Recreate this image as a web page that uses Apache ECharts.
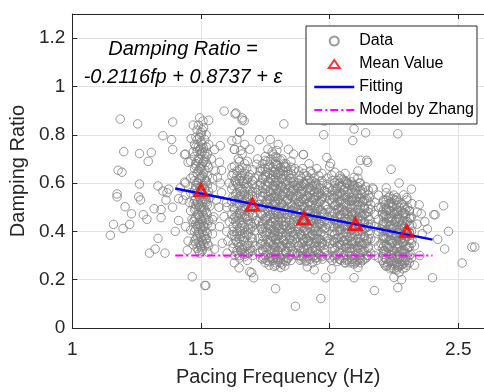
<!DOCTYPE html>
<html><head><meta charset="utf-8">
<script src="https://cdn.jsdelivr.net/npm/echarts@6/dist/echarts.min.js"></script>
<style>html,body{margin:0;padding:0;background:#fff}#c{width:484px;height:392px}</style>
</head><body><div id="c"></div>
<script>
// ---- data ----
const dataLeft = [
[1.186,0.865],[1.254,0.845],[1.39,0.853],[1.352,0.796],[1.386,0.78],[1.462,0.784],[1.2,0.73],[1.261,0.722],[1.307,0.727],[1.295,0.69],[1.39,0.739],[1.436,0.718],[1.178,0.653],[1.193,0.645],[1.45,0.686],[1.261,0.596],[1.174,0.555],[1.174,0.543],[1.258,0.543],[1.265,0.53],[1.333,0.588],[1.352,0.567],[1.375,0.575],[1.368,0.56],[1.436,0.604],[1.205,0.502],[1.364,0.53],[1.413,0.535],[1.43,0.53],[1.23,0.473],[1.276,0.469],[1.318,0.494],[1.345,0.49],[1.345,0.457],[1.413,0.445],[1.39,0.50],[1.16,0.429],[1.197,0.412],[1.223,0.429],[1.148,0.384],[1.333,0.371],[1.30,0.31],[1.322,0.327],[1.36,0.31],[1.447,0.322],[1.466,0.212],[1.519,0.176],[1.29,0.45],[1.40,0.40],[1.42,0.58],[1.44,0.55]
];
const dataMid = [
[1.59,0.898],[1.633,0.886],[1.66,0.861],[1.668,0.858],[1.508,0.857],[1.65,0.812],[1.727,0.78],[1.769,0.78],[1.822,0.845],[1.62,0.776],[1.553,0.739],[1.575,0.755],[1.63,0.739],[1.655,0.735],[1.898,0.718],[1.795,0.706],[1.989,0.706],[1.977,0.80],[1.98,0.857],[1.572,0.686],[1.58,0.653],[1.62,0.665],[1.564,0.624],[1.826,0.669],[2.0,0.669],[2.008,0.633],[1.545,0.449],[1.59,0.461],[1.572,0.42],[1.583,0.351],[1.553,0.327],[1.602,0.31],[1.648,0.249],[1.697,0.229],[1.705,0.208],[1.515,0.176],[1.79,0.163],[1.826,0.257],[1.867,0.09],[1.966,0.122],[1.985,0.208],[2.095,0.208],[2.174,0.155],[2.265,0.167],[2.40,0.208],[2.095,0.824],[2.14,0.808],[2.09,0.776],[2.12,0.694],[2.148,0.686],[2.239,0.657],[2.265,0.804],[2.167,0.58],[2.318,0.575],[2.288,0.551],[2.17,0.575],[2.348,0.51],[2.356,0.473],[2.41,0.469],[2.443,0.506],[2.405,0.469],[2.462,0.40],[2.42,0.367],[2.447,0.327],[2.553,0.335],[2.564,0.335],[2.515,0.269],[1.58,0.56],[1.60,0.52],[1.57,0.50],[1.60,0.40],[1.575,0.60],[2.34,0.43],[2.36,0.39],[2.33,0.34],[2.35,0.30],[2.37,0.44],[2.38,0.41],[2.33,0.26],[2.34,0.48]
];
const bandA = [
[1.49,0.84],[1.51,0.83],[1.50,0.81],[1.48,0.79],[1.52,0.80],[1.50,0.77],[1.49,0.75],[1.51,0.745],[1.53,0.76],[1.47,0.73],[1.50,0.72],[1.52,0.71],[1.49,0.70],[1.51,0.69],[1.48,0.68],[1.50,0.67],[1.53,0.665],[1.49,0.65],[1.51,0.64],[1.47,0.63],[1.50,0.62],[1.52,0.61],[1.49,0.60],[1.51,0.59],[1.48,0.58],[1.50,0.57],[1.53,0.565],[1.46,0.56],[1.49,0.55],[1.51,0.545],[1.48,0.535],[1.50,0.53],[1.52,0.52],[1.47,0.515],[1.49,0.51],[1.51,0.50],[1.535,0.505],[1.48,0.495],[1.50,0.49],[1.52,0.48],[1.46,0.485],[1.49,0.47],[1.51,0.465],[1.48,0.455],[1.50,0.45],[1.53,0.445],[1.47,0.44],[1.49,0.43],[1.51,0.425],[1.50,0.415],[1.48,0.41],[1.52,0.40],[1.46,0.405],[1.49,0.395],[1.51,0.385],[1.50,0.375],[1.48,0.37],[1.52,0.365],[1.49,0.355],[1.51,0.35],[1.47,0.345],[1.50,0.335],[1.53,0.34],[1.49,0.32],[1.504,0.318],[1.527,0.314],[1.45,0.36],[1.44,0.42],[1.455,0.52],[1.44,0.60],[1.545,0.58],[1.55,0.46],[1.545,0.39],[1.56,0.53],[1.555,0.65],[1.46,0.69],[1.44,0.72],[1.53,0.86],[1.47,0.84],[1.54,0.70],[1.545,0.62],[1.46,0.62],[1.535,0.54],[1.465,0.45],[1.54,0.42]
];
const bandB = [
[1.636,0.89],[1.66,0.87],[1.65,0.81],[1.64,0.78],[1.67,0.76],[1.63,0.74],[1.66,0.72],[1.69,0.74],[1.645,0.70],[1.68,0.69],[1.716,0.678],[1.63,0.67],[1.66,0.665],[1.70,0.655],
[1.64,0.65],[1.67,0.64],[1.69,0.635],[1.62,0.63],[1.655,0.62],[1.68,0.615],[1.71,0.62],[1.635,0.605],[1.665,0.60],[1.70,0.595],[1.645,0.585],[1.675,0.58],[1.62,0.575],[1.69,0.57],[1.655,0.565],[1.715,0.56],[1.635,0.555],[1.67,0.55],[1.70,0.545],[1.645,0.535],[1.68,0.53],[1.62,0.525],[1.66,0.52],[1.695,0.515],[1.64,0.505],[1.675,0.50],[1.71,0.50],[1.63,0.49],[1.655,0.485],[1.69,0.48],[1.62,0.47],[1.67,0.47],[1.70,0.465],[1.645,0.455],[1.68,0.45],[1.715,0.445],[1.635,0.44],[1.66,0.435],[1.695,0.43],[1.625,0.42],[1.65,0.415],[1.685,0.41],[1.71,0.405],[1.64,0.40],[1.67,0.395],[1.62,0.385],[1.655,0.38],[1.695,0.375],[1.635,0.365],[1.665,0.36],[1.70,0.355],[1.645,0.345],[1.68,0.34],[1.625,0.33],[1.66,0.325],[1.69,0.32],[1.64,0.31],[1.67,0.305],[1.70,0.30],[1.65,0.29],[1.68,0.28],[1.69,0.233],[1.61,0.60],[1.60,0.50],[1.61,0.44],[1.605,0.36],[1.63,0.27]
];
const bandC = [
[1.74,0.68],[1.79,0.68],[1.83,0.68],[1.76,0.665],[1.81,0.665],[1.85,0.665],[1.73,0.65],[1.78,0.65],[1.82,0.65],[1.86,0.65],[1.75,0.635],[1.80,0.635],[1.84,0.635],[1.74,0.62],[1.77,0.62],[1.815,0.62],[1.85,0.62],[1.76,0.605],[1.79,0.605],[1.83,0.605],[1.86,0.605],[1.73,0.59],[1.78,0.59],[1.81,0.59],[1.845,0.59],[1.75,0.575],[1.795,0.575],[1.825,0.575],[1.86,0.575],[1.74,0.56],[1.77,0.56],[1.805,0.56],[1.84,0.56],[1.76,0.545],[1.785,0.545],[1.82,0.545],[1.855,0.545],[1.735,0.53],[1.77,0.53],[1.80,0.53],[1.835,0.53],[1.755,0.515],[1.79,0.515],[1.815,0.515],[1.85,0.515],[1.74,0.50],[1.775,0.50],[1.805,0.50],[1.84,0.50],[1.865,0.50],[1.76,0.485],[1.79,0.485],[1.825,0.485],[1.855,0.485],[1.735,0.47],[1.77,0.47],[1.80,0.47],[1.835,0.47],[1.75,0.455],[1.785,0.455],[1.815,0.455],[1.85,0.455],[1.74,0.44],[1.775,0.44],[1.80,0.44],[1.83,0.44],[1.86,0.44],[1.76,0.425],[1.79,0.425],[1.82,0.425],[1.845,0.425],[1.735,0.41],[1.77,0.41],[1.805,0.41],[1.835,0.41],[1.755,0.395],[1.785,0.395],[1.815,0.395],[1.85,0.395],[1.74,0.38],[1.775,0.38],[1.80,0.38],[1.83,0.38],[1.86,0.38],[1.76,0.365],[1.79,0.365],[1.82,0.365],[1.845,0.365],[1.735,0.35],[1.77,0.35],[1.805,0.35],[1.835,0.35],[1.75,0.335],[1.785,0.335],[1.815,0.335],[1.85,0.335],[1.74,0.32],[1.775,0.32],[1.80,0.32],[1.83,0.32],[1.76,0.305],[1.79,0.305],[1.82,0.305],[1.855,0.305],[1.745,0.29],[1.78,0.29],[1.81,0.29],[1.84,0.29],[1.765,0.275],[1.80,0.275],[1.83,0.275],[1.79,0.26],[1.81,0.25],
[1.80,0.76],[1.84,0.74],[1.86,0.72],[1.79,0.71],[1.76,0.74],[1.777,0.73],[1.75,0.694],[1.72,0.70],[1.85,0.69]
];
const bandD = [
[1.898,0.718],[1.92,0.68],[1.95,0.66],[1.88,0.65],[1.97,0.64],[1.91,0.63],
[1.88,0.61],[1.93,0.61],[1.97,0.61],[1.90,0.595],[1.95,0.595],[1.99,0.595],[1.875,0.58],[1.92,0.58],[1.96,0.58],[1.89,0.565],[1.94,0.565],[1.98,0.565],[1.87,0.55],[1.91,0.55],[1.955,0.55],[1.99,0.55],[1.895,0.535],[1.935,0.535],[1.97,0.535],[1.88,0.52],[1.92,0.52],[1.96,0.52],[1.90,0.505],[1.945,0.505],[1.985,0.505],[1.875,0.49],[1.915,0.49],[1.955,0.49],[1.89,0.475],[1.935,0.475],[1.975,0.475],[1.87,0.46],[1.91,0.46],[1.95,0.46],[1.99,0.46],[1.895,0.445],[1.93,0.445],[1.97,0.445],[1.88,0.43],[1.92,0.43],[1.96,0.43],[1.90,0.415],[1.945,0.415],[1.985,0.415],[1.875,0.40],[1.915,0.40],[1.955,0.40],[1.89,0.385],[1.935,0.385],[1.975,0.385],[1.87,0.37],[1.91,0.37],[1.95,0.37],[1.99,0.37],[1.895,0.355],[1.93,0.355],[1.97,0.355],[1.88,0.34],[1.92,0.34],[1.96,0.34],[1.90,0.325],[1.945,0.325],[1.98,0.325],[1.875,0.31],[1.915,0.31],[1.955,0.31],[1.89,0.295],[1.935,0.295],[1.97,0.295],[1.91,0.28],[1.95,0.28],[1.913,0.253],[1.94,0.241]
];
const bandE = [
[2.144,0.694],[2.004,0.682],[2.02,0.645],[2.095,0.624],[2.064,0.604],[2.04,0.63],[2.11,0.65],
[2.02,0.60],[2.07,0.60],[2.12,0.60],[2.04,0.585],[2.09,0.585],[2.14,0.585],[2.01,0.57],[2.055,0.57],[2.10,0.57],[2.15,0.57],[2.03,0.555],[2.075,0.555],[2.125,0.555],[2.015,0.54],[2.06,0.54],[2.105,0.54],[2.155,0.54],[2.04,0.525],[2.085,0.525],[2.13,0.525],[2.02,0.51],[2.065,0.51],[2.11,0.51],[2.16,0.51],[2.035,0.495],[2.08,0.495],[2.135,0.495],[2.015,0.48],[2.055,0.48],[2.10,0.48],[2.15,0.48],[2.04,0.465],[2.085,0.465],[2.125,0.465],[2.02,0.45],[2.065,0.45],[2.11,0.45],[2.155,0.45],[2.035,0.435],[2.075,0.435],[2.135,0.435],[2.015,0.42],[2.055,0.42],[2.10,0.42],[2.15,0.42],[2.04,0.405],[2.085,0.405],[2.125,0.405],[2.02,0.39],[2.065,0.39],[2.11,0.39],[2.155,0.39],[2.035,0.375],[2.08,0.375],[2.135,0.375],[2.015,0.36],[2.055,0.36],[2.10,0.36],[2.145,0.36],[2.04,0.345],[2.085,0.345],[2.125,0.345],[2.02,0.33],[2.065,0.33],[2.11,0.33],[2.15,0.33],[2.035,0.315],[2.08,0.315],[2.13,0.315],[2.015,0.30],[2.055,0.30],[2.10,0.30],[2.145,0.30],[2.04,0.285],[2.085,0.285],[2.12,0.285],[2.06,0.27],[2.10,0.27],[2.008,0.245],[2.11,0.25]
];
const bandF = [
[2.27,0.60],[2.22,0.58],[2.30,0.54],[2.25,0.55],
[2.21,0.53],[2.26,0.53],[2.30,0.53],[2.23,0.515],[2.28,0.515],[2.32,0.515],[2.20,0.50],[2.245,0.50],[2.29,0.50],[2.22,0.485],[2.265,0.485],[2.31,0.485],[2.205,0.47],[2.25,0.47],[2.295,0.47],[2.23,0.455],[2.27,0.455],[2.315,0.455],[2.21,0.44],[2.255,0.44],[2.30,0.44],[2.235,0.425],[2.28,0.425],[2.32,0.425],[2.20,0.41],[2.245,0.41],[2.29,0.41],[2.225,0.395],[2.265,0.395],[2.31,0.395],[2.21,0.38],[2.255,0.38],[2.295,0.38],[2.235,0.365],[2.275,0.365],[2.32,0.365],[2.20,0.35],[2.245,0.35],[2.285,0.35],[2.225,0.335],[2.265,0.335],[2.305,0.335],[2.21,0.32],[2.25,0.32],[2.29,0.32],[2.23,0.305],[2.27,0.305],[2.315,0.305],[2.215,0.29],[2.255,0.29],[2.295,0.29],[2.24,0.275],[2.28,0.275],[2.225,0.26],[2.265,0.26],[2.30,0.26],[2.25,0.245],[2.285,0.245],[2.27,0.23],[2.28,0.20],[2.25,0.21]
];
// extra dense columns: [x, [y values]]
const denseCols = [
[1.475,[0.36,0.40,0.45,0.49,0.53,0.57,0.61,0.66,0.71,0.76]],
[1.485,[0.33,0.38,0.42,0.47,0.52,0.56,0.60,0.64,0.69,0.73,0.78,0.82]],
[1.495,[0.31,0.345,0.39,0.43,0.46,0.50,0.54,0.58,0.62,0.66,0.70,0.74,0.79,0.87]],
[1.505,[0.325,0.36,0.40,0.44,0.48,0.52,0.555,0.59,0.63,0.68,0.73,0.76,0.82]],
[1.515,[0.34,0.38,0.42,0.455,0.49,0.535,0.575,0.615,0.655,0.70,0.725,0.78]],
[1.525,[0.35,0.39,0.43,0.47,0.51,0.55,0.59,0.63,0.675,0.72]],
[1.48,[0.35,0.43,0.51,0.59,0.67,0.75]],
[1.50,[0.34,0.42,0.50,0.585,0.66,0.745,0.80]],
[1.52,[0.37,0.45,0.53,0.605,0.685,0.75]],
[1.625,[0.35,0.40,0.45,0.50,0.545,0.59,0.64]],
[1.632,[0.30,0.38,0.46,0.53,0.61]],
[1.64,[0.32,0.355,0.39,0.425,0.465,0.515,0.56,0.595,0.63]],
[1.65,[0.30,0.335,0.37,0.405,0.445,0.475,0.51,0.545,0.575,0.61,0.655,0.69]],
[1.655,[0.32,0.40,0.47,0.55,0.63]],
[1.66,[0.31,0.345,0.39,0.425,0.46,0.495,0.53,0.575,0.61,0.64]],
[1.67,[0.295,0.335,0.375,0.415,0.455,0.49,0.525,0.565,0.62,0.68]],
[1.678,[0.31,0.385,0.46,0.54,0.60,0.66]],
[1.685,[0.31,0.35,0.39,0.43,0.465,0.505,0.545,0.585,0.625]],
[1.693,[0.33,0.41,0.49,0.55]],
[1.70,[0.32,0.37,0.42,0.47,0.52,0.565,0.61]],
[1.71,[0.34,0.43,0.51,0.58]],
[1.725,[0.31,0.37,0.44,0.51,0.57,0.63]],
[1.732,[0.29,0.345,0.42,0.48,0.545,0.60,0.66]],
[1.74,[0.285,0.325,0.36,0.40,0.43,0.465,0.505,0.545,0.58,0.615,0.655]],
[1.75,[0.27,0.30,0.345,0.385,0.415,0.445,0.48,0.52,0.555,0.595,0.625,0.66,0.71]],
[1.757,[0.28,0.335,0.40,0.46,0.53,0.585,0.645,0.69]],
[1.765,[0.26,0.29,0.325,0.355,0.39,0.43,0.465,0.50,0.535,0.565,0.60,0.64,0.675]],
[1.772,[0.295,0.36,0.42,0.49,0.55,0.62,0.70]],
[1.78,[0.28,0.31,0.345,0.375,0.405,0.435,0.475,0.51,0.54,0.57,0.61,0.635,0.665,0.72]],
[1.785,[0.255,0.32,0.385,0.455,0.525,0.585,0.645]],
[1.79,[0.27,0.30,0.335,0.37,0.40,0.445,0.48,0.52,0.555,0.59,0.625,0.655,0.69]],
[1.795,[0.29,0.35,0.415,0.47,0.545,0.61,0.675,0.735]],
[1.80,[0.285,0.315,0.355,0.39,0.425,0.46,0.495,0.535,0.57,0.60,0.645,0.67]],
[1.808,[0.27,0.335,0.40,0.45,0.52,0.58,0.64,0.695]],
[1.815,[0.265,0.30,0.34,0.375,0.41,0.44,0.475,0.51,0.55,0.585,0.615,0.655,0.70]],
[1.822,[0.285,0.36,0.425,0.50,0.565,0.635,0.68]],
[1.83,[0.28,0.315,0.35,0.39,0.42,0.455,0.49,0.525,0.56,0.595,0.63,0.665]],
[1.837,[0.29,0.335,0.40,0.47,0.535,0.61,0.65]],
[1.845,[0.30,0.34,0.375,0.405,0.445,0.48,0.52,0.55,0.58,0.62]],
[1.85,[0.28,0.35,0.415,0.49,0.565,0.64]],
[1.855,[0.32,0.36,0.40,0.43,0.47,0.505,0.54,0.57,0.60]],
[1.865,[0.31,0.39,0.46,0.53,0.59,0.66]],
[1.872,[0.30,0.355,0.42,0.48,0.535,0.59]],
[1.88,[0.30,0.34,0.375,0.41,0.445,0.475,0.51,0.545,0.575,0.60]],
[1.885,[0.28,0.33,0.39,0.46,0.52,0.585,0.63]],
[1.89,[0.285,0.32,0.35,0.385,0.42,0.455,0.49,0.525,0.555,0.59,0.62]],
[1.895,[0.30,0.37,0.44,0.51,0.575,0.66]],
[1.90,[0.29,0.33,0.365,0.40,0.435,0.465,0.50,0.53,0.565,0.60,0.64]],
[1.908,[0.275,0.34,0.405,0.475,0.535,0.60]],
[1.915,[0.295,0.325,0.36,0.39,0.425,0.455,0.485,0.515,0.545,0.575,0.61]],
[1.92,[0.30,0.36,0.43,0.49,0.56,0.62]],
[1.925,[0.285,0.315,0.35,0.38,0.41,0.445,0.475,0.51,0.54,0.57,0.60,0.65]],
[1.933,[0.27,0.32,0.39,0.455,0.52,0.585,0.64]],
[1.94,[0.30,0.335,0.37,0.40,0.435,0.465,0.495,0.53,0.56,0.59,0.62]],
[1.945,[0.29,0.35,0.41,0.475,0.54,0.60]],
[1.95,[0.29,0.32,0.355,0.39,0.42,0.45,0.48,0.515,0.545,0.575]],
[1.958,[0.305,0.37,0.435,0.50,0.56,0.63]],
[1.965,[0.30,0.335,0.365,0.395,0.43,0.46,0.49,0.525,0.555,0.59]],
[1.972,[0.285,0.35,0.42,0.48,0.545,0.60]],
[1.98,[0.31,0.345,0.38,0.41,0.44,0.475,0.51,0.54,0.57]],
[1.99,[0.30,0.36,0.43,0.49,0.56,0.62]],
[2.0,[0.29,0.35,0.42,0.48,0.53,0.58]],
[2.01,[0.28,0.33,0.40,0.46,0.52,0.55,0.61]],
[2.02,[0.29,0.32,0.355,0.385,0.415,0.445,0.475,0.505,0.535,0.565,0.59]],
[2.025,[0.30,0.37,0.44,0.51,0.575]],
[2.03,[0.275,0.305,0.34,0.37,0.40,0.43,0.46,0.49,0.52,0.55,0.58,0.61]],
[2.038,[0.285,0.355,0.42,0.485,0.545,0.60]],
[2.045,[0.28,0.31,0.345,0.375,0.41,0.44,0.47,0.50,0.53,0.56,0.59,0.62]],
[2.052,[0.29,0.36,0.43,0.49,0.55,0.615]],
[2.06,[0.27,0.305,0.335,0.365,0.395,0.425,0.455,0.485,0.515,0.55,0.58,0.61,0.64]],
[2.065,[0.28,0.345,0.41,0.475,0.54,0.60]],
[2.07,[0.285,0.315,0.35,0.38,0.41,0.44,0.47,0.50,0.53,0.565,0.595]],
[2.078,[0.27,0.33,0.40,0.46,0.525,0.59]],
[2.085,[0.275,0.30,0.33,0.36,0.39,0.42,0.45,0.48,0.51,0.54,0.575,0.605]],
[2.09,[0.285,0.35,0.41,0.47,0.53,0.595]],
[2.095,[0.265,0.29,0.325,0.355,0.385,0.415,0.445,0.475,0.505,0.535,0.56,0.59]],
[2.103,[0.275,0.34,0.40,0.465,0.525,0.58]],
[2.11,[0.28,0.31,0.34,0.37,0.40,0.43,0.46,0.49,0.52,0.555,0.585,0.62]],
[2.116,[0.29,0.355,0.42,0.48,0.54,0.60]],
[2.12,[0.27,0.30,0.325,0.355,0.385,0.415,0.445,0.475,0.505,0.535,0.57]],
[2.128,[0.28,0.34,0.40,0.46,0.52,0.575]],
[2.135,[0.285,0.32,0.35,0.38,0.41,0.44,0.47,0.50,0.53,0.56]],
[2.142,[0.29,0.35,0.415,0.475,0.535]],
[2.15,[0.30,0.335,0.37,0.40,0.43,0.46,0.495,0.525,0.55]],
[2.16,[0.31,0.37,0.43,0.49]],
[2.175,[0.30,0.36,0.42,0.47,0.52]],
[2.19,[0.29,0.34,0.40,0.45,0.50,0.55]],
[2.205,[0.28,0.33,0.38,0.43,0.48]],
[2.21,[0.27,0.305,0.34,0.37,0.40,0.43,0.46,0.49,0.52]],
[2.215,[0.26,0.32,0.37,0.42,0.47,0.51]],
[2.22,[0.255,0.285,0.315,0.345,0.375,0.405,0.435,0.465,0.495,0.53,0.56]],
[2.228,[0.27,0.33,0.38,0.44,0.49,0.54]],
[2.235,[0.245,0.275,0.305,0.335,0.365,0.395,0.425,0.455,0.485,0.515,0.545]],
[2.24,[0.25,0.30,0.36,0.41,0.46,0.52]],
[2.245,[0.26,0.29,0.32,0.355,0.385,0.415,0.445,0.475,0.505,0.535]],
[2.253,[0.265,0.31,0.37,0.425,0.48,0.53]],
[2.26,[0.24,0.27,0.30,0.33,0.36,0.39,0.42,0.45,0.48,0.51,0.54]],
[2.265,[0.25,0.295,0.35,0.405,0.46,0.52]],
[2.27,[0.255,0.285,0.315,0.345,0.375,0.41,0.44,0.47,0.50]],
[2.278,[0.26,0.32,0.37,0.43,0.485]],
[2.285,[0.265,0.295,0.325,0.355,0.385,0.415,0.445,0.475,0.51]],
[2.29,[0.27,0.31,0.365,0.42,0.475]],
[2.295,[0.25,0.28,0.31,0.34,0.37,0.40,0.43,0.46,0.49]],
[2.303,[0.28,0.33,0.38,0.44,0.50]],
[2.31,[0.27,0.30,0.335,0.365,0.395,0.425,0.455,0.485]],
[2.318,[0.29,0.35,0.40,0.46]]
];
const meanValues = [[1.5,0.57],[1.7,0.51],[1.9,0.453],[2.1,0.43],[2.3,0.40]];
const fitLine = [[1.4,0.5775],[2.4,0.3659]];
const zhangLine = [[1.4,0.30],[2.4,0.30]];
const legendNames = ['Data','Mean Value','Fitting','Model by Zhang'];
const annotation = ['Damping Ratio =','-0.2116fp + 0.8737 + \u03b5'];
const xName = 'Pacing Frequency (Hz)';
const yName = 'Damping Ratio';

const denseData = [];
denseCols.forEach(function(c){ c[1].forEach(function(y){ denseData.push([c[0], y]); }); });
const allData = [].concat(dataLeft, dataMid, bandA, bandB, bandC, bandD, bandE, bandF, denseData);
const FONT = '"Liberation Sans", Arial, sans-serif';
const AX = '#262626';
const chart = echarts.init(document.getElementById('c'), null, {renderer:'canvas'});
chart.setOption({
  animation:false,
  backgroundColor:'#fff',
  textStyle:{fontFamily:FONT},
  grid:{left:69, right:-8, top:14, bottom:59, containLabel:false},
  xAxis:[{
    type:'value', min:1, max:2.6, interval:0.5,
    name:xName, nameLocation:'middle', nameGap:39,
    nameTextStyle:{fontSize:20, color:AX, fontFamily:FONT},
    axisLine:{show:true, onZero:false, lineStyle:{color:AX, width:1}},
    axisTick:{show:true, inside:true, length:5, lineStyle:{color:AX}},
    axisLabel:{fontSize:19, color:AX, margin:12, fontFamily:FONT, showMaxLabel:false},
    splitLine:{show:true, lineStyle:{color:'#e3e3e3', width:1}}
  },{
    type:'value', min:1, max:2.6, interval:0.5, position:'top',
    axisLine:{show:true, onZero:false, lineStyle:{color:AX, width:1}},
    axisTick:{show:true, inside:true, length:5, lineStyle:{color:AX}},
    axisLabel:{show:false}, splitLine:{show:false}
  }],
  yAxis:{
    type:'value', min:0, max:1.3, interval:0.2,
    name:yName, nameLocation:'middle', nameGap:32,
    nameTextStyle:{fontSize:20, color:AX, fontFamily:FONT},
    axisLine:{show:true, onZero:false, lineStyle:{color:AX, width:1}},
    axisTick:{show:true, inside:true, length:5, lineStyle:{color:AX}},
    axisLabel:{fontSize:19, color:AX, margin:7, fontFamily:FONT, showMaxLabel:false},
    splitLine:{show:true, lineStyle:{color:'#e3e3e3', width:1}}
  },
  legend:{
    orient:'vertical', left:306, top:26,
    padding:[7,3,6,7], itemGap:7, itemWidth:40, itemHeight:10,
    backgroundColor:'#fff', borderColor:AX, borderWidth:1, borderRadius:0,
    textStyle:{fontSize:16, color:'#000', fontFamily:FONT},
    data:[
      {name:legendNames[0], icon:'path://M0,0M40,10M24.5,5A4.5,4.5,0,1,1,15.5,5A4.5,4.5,0,1,1,24.5,5Z'},
      {name:legendNames[1], icon:'path://M0,0M40,10M14.5,9L25.5,9L20,1Z'},
      {name:legendNames[2], itemStyle:{opacity:0}, lineStyle:{width:2.5}},
      {name:legendNames[3], itemStyle:{opacity:0}, lineStyle:{width:2}}
    ]
  },
  graphic:[
    {type:'text', x:183, y:49, z:100, style:{text:annotation[0], align:'center', verticalAlign:'middle', font:'italic 20px '+FONT, fill:'#000'}},
    {type:'text', x:183, y:77, z:100, style:{text:annotation[1], align:'center', verticalAlign:'middle', font:'italic 20px '+FONT, fill:'#000'}}
  ],
  series:[
    {name:legendNames[0], type:'scatter', data:allData, symbol:'circle', symbolSize:8.5, z:2, large:false,
     itemStyle:{color:'rgba(0,0,0,0)', borderColor:'#808080', borderWidth:1}},
    {name:legendNames[3], type:'line', data:zhangLine, symbol:'none', z:3,
     lineStyle:{color:'#ff00ff', width:2, type:[8,3,2,3]}, itemStyle:{color:'#ff00ff'}},
    {name:legendNames[2], type:'line', data:fitLine, symbol:'none', z:4,
     lineStyle:{color:'#0000ff', width:2.5}, itemStyle:{color:'#0000ff'}},
    {name:legendNames[1], type:'scatter', data:meanValues, symbol:'triangle', symbolSize:[12,11], z:5,
     itemStyle:{color:'rgba(0,0,0,0)', borderColor:'#ff0000', borderWidth:3}}
  ]
});
</script></body></html>
